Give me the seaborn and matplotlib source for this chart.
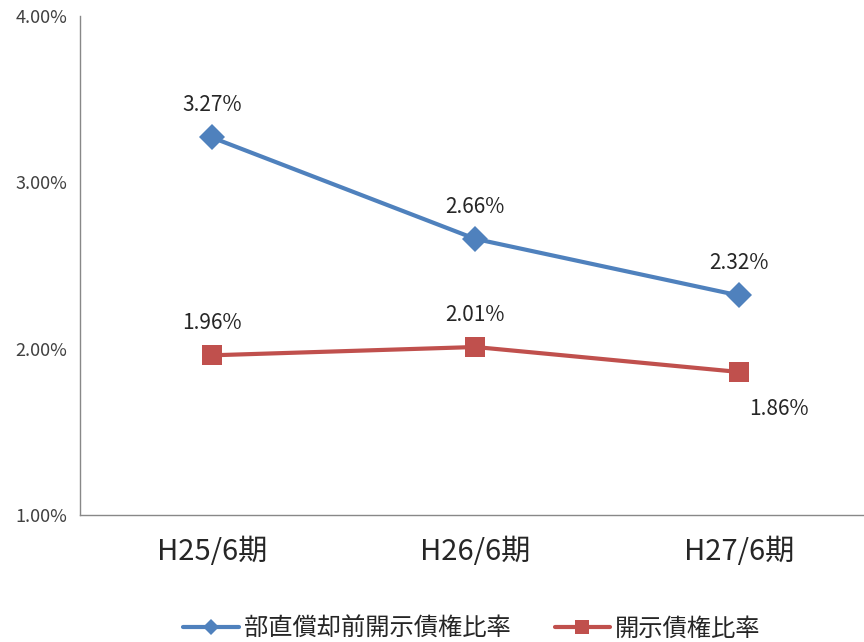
import pandas as pd
import seaborn as sns
import matplotlib.pyplot as plt
from matplotlib.lines import Line2D
from matplotlib.ticker import FuncFormatter

# values (%)
periods = ["H25/6期", "H26/6期", "H27/6期"]
ratio_before = [3.27, 2.66, 2.32]   # 部直償却前開示債権比率
ratio_disclosed = [1.96, 2.01, 1.86]  # 開示債権比率
series_names = ["部直償却前開示債権比率", "開示債権比率"]

df = pd.DataFrame({
    "period": periods * 2,
    "pos": [0, 1, 2] * 2,
    "value": ratio_before + ratio_disclosed,
    "series": [series_names[0]] * 3 + [series_names[1]] * 3,
})

sns.set_style("white")
plt.rcParams["font.family"] = ["Noto Sans CJK JP", "DejaVu Sans"]

colors = {series_names[0]: "#4F81BD", series_names[1]: "#C0504D"}
markers = {series_names[0]: "D", series_names[1]: "s"}

fig = plt.figure(figsize=(8.64, 6.42), dpi=100)
ax = fig.add_axes([80 / 864, 127 / 642, 1 - 80 / 864, (626 - 127) / 642])

sns.lineplot(data=df, x="pos", y="value", hue="series", style="series",
             palette=colors, markers=markers, dashes=False, linewidth=3,
             markersize=13, markeredgewidth=0, ax=ax, legend=False)
# squares a bit bigger than diamonds
for ln in ax.lines:
    if ln.get_marker() == "s":
        ln.set_markersize(15)

# data labels
offsets = {series_names[0]: [(0, 23), (0, 23), (0, 23)],
           series_names[1]: [(0, 23), (0, 23), (29, -27)]}
for name, vals in [(series_names[0], ratio_before), (series_names[1], ratio_disclosed)]:
    for i, v in enumerate(vals):
        ax.annotate(f"{v:.2f}%", (i, v), xytext=offsets[name][i],
                    textcoords="offset points", ha="center", va="center",
                    fontsize=15, color="#262626")

ax.set_ylim(1.0, 4.0)
ax.set_yticks([1, 2, 3, 4])
ax.yaxis.set_major_formatter(FuncFormatter(lambda v, p: f"{v:.2f}%"))
ax.set_xticks([0, 1, 2])
ax.set_xticklabels(periods, fontsize=21)
ax.set_xticks([-0.5, 0.5, 1.5, 2.5], minor=True)
ax.set_xlim(-0.5, 2.475)
ax.tick_params(axis="x", which="major", length=0, pad=16, labelcolor="#262626")
ax.tick_params(axis="x", which="minor", length=6, color="#888888", width=1, direction="out")
ax.tick_params(axis="y", length=6, color="#888888", width=1, direction="out",
               labelsize=13, pad=3, labelcolor="#404040")
ax.set_xlabel("")
ax.set_ylabel("")

for side in ["top", "right"]:
    ax.spines[side].set_visible(False)
for side in ["left", "bottom"]:
    ax.spines[side].set_color("#888888")
    ax.spines[side].set_linewidth(1)

handles = [
    Line2D([], [], color=colors[series_names[0]], lw=3, marker="D", markersize=8, markeredgewidth=0),
    Line2D([], [], color=colors[series_names[1]], lw=3, marker="s", markersize=10, markeredgewidth=0),
]
ax.legend(handles, series_names, loc="center", bbox_to_anchor=(0.5, -0.228),
          ncol=2, frameon=False, fontsize=17.5, handlelength=2.3,
          columnspacing=1.8, handletextpad=0.2, labelcolor="#262626")

fig.savefig("out.png", dpi=100)
